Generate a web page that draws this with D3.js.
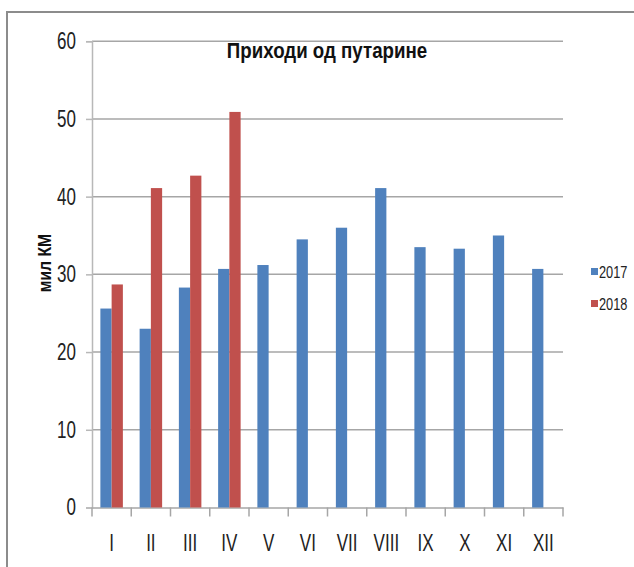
<!DOCTYPE html>
<html>
<head>
<meta charset="utf-8">
<script src="https://cdn.jsdelivr.net/npm/d3@7"></script>
<style>
    html, body { margin: 0; padding: 0; background: #fff; }
    svg { display: block; }
</style>
</head>
<body>
<script>
// данные графика
const months = ['I', 'II', 'III', 'IV', 'V', 'VI', 'VII', 'VIII', 'IX', 'X', 'XI', 'XII'];
const seriesNames = ['2017', '2018'];
const values2017 = [25.6, 23.0, 28.3, 30.7, 31.2, 34.5, 36.0, 41.1, 33.5, 33.3, 35.0, 30.7];
const values2018 = [28.7, 41.1, 42.7, 50.9];
const yTicks = [0, 10, 20, 30, 40, 50, 60];
const title = 'Приходи од путарине';
const yLabel = 'мил КМ';

const colors = { '2017': '#4f81bd', '2018': '#c0504d' };
const font = '"Liberation Sans", sans-serif';
// узкого шрифта нет, поэтому сжимаем текст по горизонтали
const narrow = 0.74;

class Chart {
    constructor() {
        const width = 634;
        const height = 567;
        const svg = d3.select('body').append('svg')
            .attr('width', width)
            .attr('height', height);

        this.drawFrame(svg, width, height);
        const { x, y } = this.drawAxes(svg);
        this.drawBars(svg, x, y);
        this.drawTexts(svg);
        this.drawLegend(svg);
    }

    /**
     * Рамка вокруг рисунка
     */
    drawFrame(svg, width, height) {
        svg.append('path')
            .attr('d', `M7,${height} L7,12 L${width},12`)
            .attr('fill', 'none')
            .attr('stroke', '#8c8c8c')
            .attr('stroke-width', 2);
    }

    /**
     * Оси и сетка
     */
    drawAxes(svg) {
        const x = d3.scaleBand().domain(months).range([92, 563]);
        const y = d3.scaleLinear().domain([0, 60]).range([507.5, 41.2]);

        svg.append('g').selectAll('line').data(yTicks.slice(1)).enter()
            .append('line')
            .attr('x1', 92).attr('x2', 563)
            .attr('y1', d => y(d)).attr('y2', d => y(d))
            .attr('stroke', '#a6a6a6')
            .attr('stroke-width', 1.5);

        const yAxis = svg.append('g')
            .attr('transform', 'translate(92,0)')
            .call(d3.axisLeft(y).tickValues(yTicks).tickSize(6));
        yAxis.select('.domain').attr('stroke', '#b8b8b8').attr('stroke-width', 1.5);
        yAxis.selectAll('.tick line').attr('stroke', '#b8b8b8').attr('stroke-width', 1.5);
        yAxis.selectAll('text')
            .attr('x', -16 / narrow)
            .attr('transform', `scale(${narrow},1)`)
            .attr('font-family', font)
            .attr('font-size', 23)
            .attr('fill', '#222');

        const xAxis = svg.append('g')
            .attr('transform', `translate(0,${y(0)})`)
            .call(d3.axisBottom(x).tickSize(0).tickPadding(27));
        xAxis.select('.domain').attr('stroke', '#a6a6a6').attr('stroke-width', 1.5);
        xAxis.selectAll('text')
            .attr('transform', `scale(${narrow},1)`)
            .attr('font-family', font)
            .attr('font-size', 23)
            .attr('fill', '#222');

        // засечки между категориями
        const edges = months.map(m => x(m)).concat([x.range()[1]]);
        xAxis.selectAll('line.edge').data(edges).enter()
            .append('line')
            .attr('class', 'edge')
            .attr('x1', d => d).attr('x2', d => d)
            .attr('y1', 0).attr('y2', 9)
            .attr('stroke', '#a6a6a6')
            .attr('stroke-width', 1.5);

        return { x, y };
    }

    /**
     * Столбцы двух серий
     */
    drawBars(svg, x, y) {
        const groupWidth = 22.5;
        const inner = d3.scaleBand().domain(seriesNames).range([0, groupWidth]);
        const offset = (x.bandwidth() - groupWidth) / 2;

        const series = [
            { name: '2017', values: values2017 },
            { name: '2018', values: values2018 }
        ];

        series.forEach(s => {
            svg.append('g').selectAll('rect').data(s.values).enter()
                .append('rect')
                .attr('x', (d, i) => x(months[i]) + offset + inner(s.name))
                .attr('y', d => y(d))
                .attr('width', inner.bandwidth())
                .attr('height', d => y(0) - y(d))
                .attr('fill', colors[s.name]);
        });
    }

    /**
     * Заголовок и подпись оси
     */
    drawTexts(svg) {
        svg.append('text')
            .attr('transform', `translate(327,58) scale(0.85,1)`)
            .attr('text-anchor', 'middle')
            .attr('font-family', font)
            .attr('font-weight', 'bold')
            .attr('font-size', 22)
            .attr('fill', '#111')
            .text(title);

        svg.append('text')
            .attr('transform', 'translate(51,263) rotate(-90) scale(0.83,1)')
            .attr('text-anchor', 'middle')
            .attr('font-family', font)
            .attr('font-weight', 'bold')
            .attr('font-size', 19)
            .attr('fill', '#111')
            .text(yLabel);
    }

    /**
     * Легенда справа
     */
    drawLegend(svg) {
        const items = svg.append('g').selectAll('g').data(seriesNames).enter()
            .append('g')
            .attr('transform', (d, i) => `translate(591,${268 + i * 32})`);

        items.append('rect')
            .attr('width', 7).attr('height', 7)
            .attr('fill', d => colors[d]);

        items.append('text')
            .attr('transform', 'translate(8,9.5) scale(0.8,1)')
            .attr('font-family', font)
            .attr('font-size', 16)
            .attr('fill', '#222')
            .text(d => d);
    }
}

new Chart();
</script>
</body>
</html>
